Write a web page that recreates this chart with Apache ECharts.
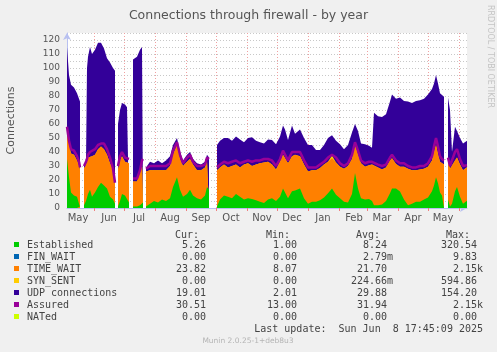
<!DOCTYPE html>
<html>
<head>
<meta charset="utf-8">
<script src="https://cdn.jsdelivr.net/npm/echarts@6/dist/echarts.min.js"></script>
<style>
html, body { margin: 0; padding: 0; background: #f0f0f0; }
#chart { width: 497px; height: 352px; }
</style>
</head>
<body>
<div id="chart"></div>
<script>
// x = days since 5 May 2024; rows full of null are the holes in the data
const days = [
  0, 2, 4, 7, 10, 12, 13, 15,
  17, 19, 20, 21, 23, 25, 28, 31, 34, 37, 40, 43, 46, 48, 50,
  51, 53, 55, 58, 60, 62, 64,
  66, 70, 73, 75, 76, 78,
  79, 83, 87, 91, 95, 99, 103, 106, 110, 113, 116, 120, 123, 126, 130, 134, 138, 140, 142, 146,
  150, 153, 157, 161, 165, 169, 173, 177, 181,
  185, 189, 193, 197, 201, 205, 209, 213,
  216, 218, 221, 225, 228, 233, 237, 241,
  245, 249, 253, 257, 261, 265, 269, 273,
  277, 281, 285, 288, 291, 294, 298, 302,
  305, 307, 311, 315, 319, 323, 325, 329,
  333, 337, 341, 345, 349, 353, 357, 361,
  365, 367, 369, 371, 373, 375, 377, 379,
  381, 383, 385, 388, 390, 393, 396, 400
];
const established = [
  35, 22, 11, 9, 8, 3, 1, null,
  2, 5, 6, 10, 13, 8, 11, 15, 18, 16, 14, 8, 6, 3, null,
  1, 5, 10, 9, 8, 4, null,
  1, 1, 2, 3, 4, null,
  1, 3, 5, 4, 6, 5, 7, 15, 22, 13, 8, 10, 13, 9, 7, 6, 9, 15, 13, null,
  1, 6, 9, 8, 7, 10, 8, 6, 7,
  6.5, 5.5, 4.5, 3.5, 6, 7, 5, 8,
  14, 14, 7, 12, 12.5, 14, 7, 3,
  4.5, 4.5, 5.5, 7.5, 10.5, 14, 9.5, 7,
  4.5, 4, 10, 25, 14, 7, 6, 6.5,
  5, 2, 2, 2.5, 5, 10.5, 14, 14,
  11.7, 6, 2, 3, 4.5, 4.5, 6, 7.5,
  12, 16, 22, 17.6, 11, 9, 8, null,
  6, 1, 3, 12, 15, 8, 3, 5.26
];
const timeWait = [
  20, 23, 28, 29, 26, 27, 26, null,
  26, 26, 27, 26, 22, 29, 27, 27, 26, 26, 24, 24, 20, 14, null,
  26, 29, 27, 24, 24, 28, null,
  18, 18, 23, 29, 29, null,
  25, 24, 22, 23, 21, 22, 23, 23, 23, 22, 22, 23, 22, 22, 20, 21, 20, 19, 20, null,
  26, 23, 22, 21, 23, 21, 21, 25, 25,
  23.5, 25.5, 27.5, 29, 27, 24, 22.5, 25,
  24, 23, 25, 25, 25.5, 23, 24, 23,
  22.5, 22.5, 23, 23.5, 22.5, 21.5, 23, 22.5,
  23.5, 26, 25, 20, 24, 25, 23.5, 24,
  26, 29, 27, 25, 24, 23.5, 21.5, 17.5,
  17.8, 23.5, 26, 24, 22.5, 23, 22, 22,
  22, 24, 23, 20.9, 22, 23, 23, null,
  27, 27, 24, 22, 21, 23, 24, 23.82
];
const synSent = [
  0, 0, 0, 0, 0, 0, 0, null,
  0, 0, 0, 0, 0, 0, 0, 0, 0, 0, 0, 0, 3, 0, null,
  0, 0, 0, 0, 0, 0, null,
  0, 0, 0, 0, 0, null,
  0, 0, 0, 0, 0, 0, 0, 0, 0, 0, 0, 0, 0, 0, 0, 0, 0, 0, 0, null,
  0, 0, 0, 0, 0, 0, 0, 0, 0,
  0, 0, 0, 0, 0, 0, 0, 0,
  0, 0, 0, 0, 0, 0, 0, 0,
  0, 0, 0, 0, 0, 2, 0, 0,
  0, 0, 0, 0, 0, 0, 0, 0,
  0, 0, 0, 0, 0, 0, 0, 0,
  0, 0, 0, 0, 0, 0, 0, 0,
  0, 0, 0, 0, 0, 0, 0, null,
  0, 0, 0, 0, 0, 0, 0, 0
];
const udpConns = [
  60, 50, 49, 48, 48, 48, 49, null,
  2, 2, 67, 72, 80, 73, 75, 76, 74, 72, 69, 72, 71, 81, null,
  33, 36, 38, 41, 40, 40, null,
  87, 89, 88, 83, 83, null,
  3, 6, 5, 7, 5, 7, 7, 7, 5, 5, 4, 5, 5, 4, 5, 4, 4, 4, 3, null,
  18, 19, 19, 21, 18, 20, 20, 16, 18,
  20.5, 17, 15, 13.5, 16, 17.5, 18, 18,
  21, 19, 16.5, 22, 15, 19, 19, 19,
  18, 14.5, 13, 14, 17, 14.5, 15.5, 16,
  14, 15, 19, 15, 17, 14, 16, 14,
  12, 37, 36.5, 37.5, 38, 42, 45.5, 46.5,
  49.5, 47, 48, 48, 49.5, 49.5, 50, 51.5,
  51, 49, 50, 50.5, 49, 50, 48.5, null,
  46, 42, 13, 24, 19, 19, 19, 19.01
];
const assured = [
  58, 48, 42, 41, 37, 33, 29, null,
  30, 33, 35, 38, 40, 40, 42, 45, 46, 46, 42, 36, 28, 18, null,
  30, 37, 40, 36, 35, 35, null,
  21, 21, 27, 34, 35, null,
  28, 30, 30, 30, 30, 30, 32, 41, 47, 38, 32, 36, 38, 33, 30, 30, 31, 36, 35, null,
  29, 31, 33, 32, 33, 34, 32, 33, 34,
  33, 34, 34, 35, 35, 34, 30, 35,
  41, 40, 34, 40, 40, 40, 34, 29,
  29, 29, 31, 33, 36, 38, 36, 32,
  30, 32, 38, 47, 41, 34, 32, 33,
  33, 33, 31, 30, 31, 36, 38, 34,
  32, 32, 30, 29, 29, 30, 30, 32,
  37, 44, 50, 44, 37, 35, 34, null,
  36, 30, 29, 40, 42, 35, 30, 30.51
];

// month boundaries (grid lines) and mid-month label positions, in days
const monthStarts = [27, 57, 88, 119, 149, 180, 210, 241, 272, 300, 331, 361, 392];
const labelDays = [11, 42, 72, 103, 134, 164, 195, 225, 256, 287, 315, 346, 376];
const monthNames = ['May', 'Jun', 'Jul', 'Aug', 'Sep', 'Oct', 'Nov', 'Dec', 'Jan', 'Feb', 'Mar', 'Apr', 'May'];

// legend table
const legendNames = ['Established', 'FIN_WAIT', 'TIME_WAIT', 'SYN_SENT', 'UDP connections', 'Assured', 'NATed'];
const legendColors = ['#00cc00', '#0066b3', '#ff8000', '#ffcc00', '#330099', '#990099', '#ccff00'];
const curValues = ['5.26', '0.00', '23.82', '0.00', '19.01', '30.51', '0.00'];
const minValues = ['1.00', '0.00', '8.07', '0.00', '2.01', '13.00', '0.00'];
const avgValues = ['8.24', '2.79m', '21.70', '224.66m', '29.88', '31.94', '0.00'];
const maxValues = ['320.54', '9.83', '2.15k', '594.86', '154.20', '2.15k', '0.00'];

const chart = echarts.init(document.getElementById('chart'));

const sans = '"DejaVu Sans", sans-serif';
const mono = '"DejaVu Sans Mono", monospace';
const textColor = '#444';

// running totals for the stack (rrdtool STACK), drawn back to front
const layers = [established, timeWait, synSent, udpConns];
const stacked = [];
layers.forEach((arr, k) => {
  stacked.push(arr.map((v, i) => (v === null ? null : v + (k ? stacked[k - 1][i] : 0))));
});

function pairs(arr) {
  return days.map((d, i) => [d, arr[i]]);
}

const graphics = [];
const colX = [206, 297, 387, 477];
['Cur:', 'Min:', 'Avg:', 'Max:'].forEach((h, i) => {
  graphics.push({ type: 'text', x: colX[i] - 7, y: 235,
    style: { text: h, font: '10px ' + mono, fill: textColor, textAlign: 'right', textVerticalAlign: 'middle' } });
});
const columns = [curValues, minValues, avgValues, maxValues];
legendNames.forEach((name, r) => {
  const y = 245 + r * 12;
  graphics.push({ type: 'rect', shape: { x: 14, y: y - 3, width: 5, height: 5 }, style: { fill: legendColors[r] } });
  graphics.push({ type: 'text', x: 27, y: y,
    style: { text: name, font: '10px ' + mono, fill: textColor, textVerticalAlign: 'middle' } });
  columns.forEach((col, c) => {
    const m = col[r].match(/^([\d.]+)([a-z]?)$/i);
    graphics.push({ type: 'text', x: colX[c], y: y,
      style: { text: m[1], font: '10px ' + mono, fill: textColor, textAlign: 'right', textVerticalAlign: 'middle' } });
    if (m[2]) {
      graphics.push({ type: 'text', x: colX[c], y: y,
        style: { text: m[2], font: '10px ' + mono, fill: textColor, textVerticalAlign: 'middle' } });
    }
  });
});
graphics.push({ type: 'text', x: 483, y: 329,
  style: { text: 'Last update:  Sun Jun  8 17:45:09 2025', font: '10px ' + mono, fill: textColor, textAlign: 'right', textVerticalAlign: 'middle' } });
graphics.push({ type: 'text', x: 248, y: 341,
  style: { text: 'Munin 2.0.25-1+deb8u3', font: '7.5px ' + sans, fill: '#b4b4b4', textAlign: 'center', textVerticalAlign: 'middle' } });
graphics.push({ type: 'text', x: 490, y: 5, rotation: -Math.PI / 2,
  style: { text: 'RRDTOOL / TOBI OETIKER', font: '8px ' + sans, fill: '#c4c4c4', textVerticalAlign: 'middle' } });

// vertical month grid, kept beneath the areas
const monthLines = monthStarts.map(d => ({ xAxis: d }));

function area(name, color, arr) {
  return {
    name: name,
    type: 'line',
    data: pairs(arr),
    showSymbol: false,
    symbol: 'none',
    lineStyle: { width: 0 },
    areaStyle: { color: color, opacity: 1 },
    itemStyle: { color: color }
  };
}

const option = {
  animation: false,
  backgroundColor: '#f0f0f0',
  title: {
    text: 'Connections through firewall - by year',
    left: 'center',
    top: 4,
    textStyle: { fontFamily: sans, fontSize: 12.5, fontWeight: 'normal', color: '#555' }
  },
  grid: {
    left: 67, right: 30, top: 33, bottom: 144,
    show: true, backgroundColor: '#ffffff', borderWidth: 0,
    containLabel: false, outerBoundsMode: 'none'
  },
  xAxis: {
    type: 'value',
    min: 0,
    max: 400,
    axisLine: { show: true, symbol: ['none', 'arrow'], symbolSize: [6, 7], lineStyle: { color: '#b8c0f0' } },
    axisTick: { show: true, customValues: monthStarts, length: 3, lineStyle: { color: '#f08080' } },
    axisLabel: {
      customValues: labelDays,
      formatter: v => monthNames[labelDays.indexOf(v)],
      color: '#555', fontFamily: sans, fontSize: 10, margin: 5
    },
    splitLine: { show: false }
  },
  yAxis: {
    type: 'value',
    min: 0,
    max: 125,
    interval: 5,
    name: 'Connections',
    nameLocation: 'middle',
    nameGap: 50,
    nameTextStyle: { fontFamily: sans, fontSize: 11, color: '#555' },
    axisLine: { show: true, symbol: ['none', 'arrow'], symbolSize: [6, 7], lineStyle: { color: '#b8c0f0' } },
    axisTick: { show: false },
    axisLabel: {
      formatter: v => (v % 10 === 0 ? String(v) : ''),
      color: '#555', fontFamily: sans, fontSize: 9, margin: 7
    },
    splitLine: { show: true, lineStyle: { type: [1, 2], width: 1, color: '#c8c8c8' } }
  },
  series: [
    {
      name: 'grid',
      type: 'line',
      data: [],
      z: 1,
      silent: true,
      markLine: {
        z: 1,
        silent: true,
        symbol: 'none',
        label: { show: false },
        lineStyle: { type: [1, 2], width: 1, color: '#f0a0a0' },
        data: monthLines
      }
    },
    area('UDP connections', '#330099', stacked[3]),
    area('SYN_SENT', '#ffcc00', stacked[2]),
    area('TIME_WAIT', '#ff8000', stacked[1]),
    area('Established', '#00cc00', stacked[0]),
    {
      name: 'Assured',
      type: 'line',
      data: pairs(assured),
      showSymbol: false,
      symbol: 'none',
      lineStyle: { width: 2.5, color: '#990099' },
      itemStyle: { color: '#990099' },
      z: 3
    }
  ],
  graphic: graphics
};

chart.setOption(option);
</script>
</body>
</html>
